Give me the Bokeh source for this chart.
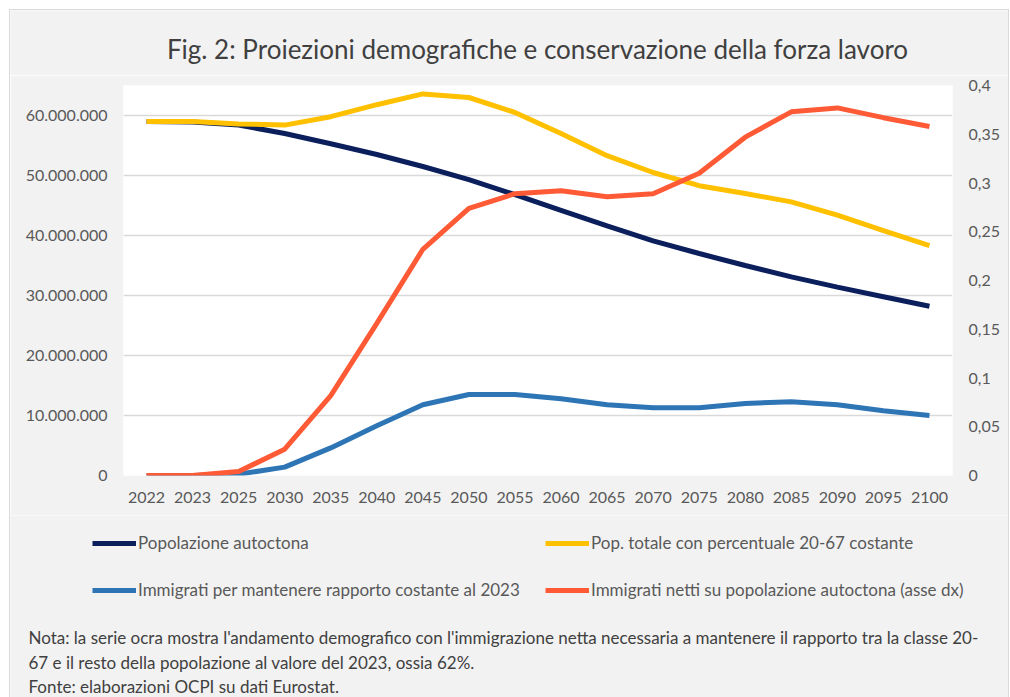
from bokeh.plotting import figure
from bokeh.models import (FactorRange, Range1d, LinearAxis, FixedTicker, CustomJSTickFormatter,
                          Legend, LegendItem, Label, Column)
from bokeh.embed import file_html
from bokeh.resources import INLINE

# ---------------- data ----------------
years = ["2022", "2023", "2025", "2030", "2035", "2040", "2045", "2050", "2055",
         "2060", "2065", "2070", "2075", "2080", "2085", "2090", "2095", "2100"]
pop_autoctona = [59.0e6, 58.9e6, 58.4e6, 57.0e6, 55.3e6, 53.5e6, 51.5e6, 49.3e6, 46.8e6,
                 44.2e6, 41.6e6, 39.1e6, 37.0e6, 35.0e6, 33.1e6, 31.4e6, 29.8e6, 28.2e6]
pop_totale = [59.0e6, 59.0e6, 58.6e6, 58.4e6, 59.8e6, 61.8e6, 63.6e6, 63.0e6, 60.5e6,
              57.0e6, 53.3e6, 50.5e6, 48.3e6, 47.0e6, 45.6e6, 43.4e6, 40.8e6, 38.3e6]
immigrati = [0.0, 0.0, 0.2e6, 1.4e6, 4.6e6, 8.3e6, 11.8e6, 13.5e6, 13.5e6,
             12.8e6, 11.8e6, 11.3e6, 11.3e6, 12.0e6, 12.3e6, 11.8e6, 10.8e6, 10.0e6]
quota_immigrati = [0.0, 0.0, 0.004, 0.027, 0.082, 0.156, 0.232, 0.274, 0.289,
                   0.292, 0.286, 0.289, 0.310, 0.347, 0.373, 0.377, 0.367, 0.358]

left_ticks = [0, 10e6, 20e6, 30e6, 40e6, 50e6, 60e6]
right_ticks = [0, 0.05, 0.1, 0.15, 0.2, 0.25, 0.3, 0.35, 0.4]

title_text = "Fig. 2: Proiezioni demografiche e conservazione della forza lavoro"
series_names = ["Popolazione autoctona",
                "Pop. totale con percentuale 20-67 costante",
                "Immigrati per mantenere rapporto costante al 2023",
                "Immigrati netti su popolazione autoctona (asse dx)"]
note_lines = ["Nota: la serie ocra mostra l'andamento demografico con l'immigrazione netta necessaria a mantenere il rapporto tra la classe 20-",
              "67 e il resto della popolazione al valore del 2023, ossia 62%.",
              "Fonte: elaborazioni OCPI su dati Eurostat."]

colors = ["#0b1f5c", "#ffc000", "#2e75b6", "#ff5a36"]
FONT = "Lato"
LABEL_COLOR = "#595959"
TEXT_COLOR = "#404040"
BG = "#f2f2f2"
W = 998
NAN = float("nan")

# ---------------- title strip ----------------
pt = figure(width=W, height=65, x_range=Range1d(0, W), y_range=Range1d(65, 0),
            x_axis_type=None, y_axis_type=None, output_backend="svg", toolbar_location=None,
            min_border=0, outline_line_color=None, background_fill_color=BG,
            border_fill_color=BG)
pt.grid.visible = False
pt.add_layout(Label(x=527, y=38, text=title_text, text_align="center", text_baseline="middle",
                    text_font=FONT, text_font_size="26px", text_color=TEXT_COLOR))

# ---------------- main chart ----------------
p = figure(width=W, height=440, x_range=FactorRange(*years), y_range=Range1d(0, 65e6),
           output_backend="svg", toolbar_location=None,
           min_border_left=113, min_border_right=56, min_border_top=10, min_border_bottom=40,
           background_fill_color="white", border_fill_color=BG, outline_line_color=None)
p.extra_y_ranges = {"right": Range1d(0, 0.4)}

def style_axis(ax, standoff):
    ax.axis_line_color = None
    ax.major_tick_line_color = None
    ax.minor_tick_line_color = None
    ax.major_tick_out = 0
    ax.major_tick_in = 0
    ax.major_label_text_color = LABEL_COLOR
    ax.major_label_text_font = FONT
    ax.major_label_text_font_size = "16px"
    ax.major_label_standoff = standoff

yax = p.yaxis[0]
yax.ticker = FixedTicker(ticks=left_ticks)
yax.formatter = CustomJSTickFormatter(
    code="return Math.round(tick).toString().replace(/\\B(?=(\\d{3})+(?!\\d))/g, '.');")
style_axis(yax, 16)

xax = p.xaxis[0]
style_axis(xax, 16)

rax = LinearAxis(y_range_name="right", ticker=FixedTicker(ticks=right_ticks),
                 formatter=CustomJSTickFormatter(
                     code="return (Math.round(tick*100)/100).toString().replace('.', ',');"))
style_axis(rax, 16)
p.add_layout(rax, "right")

p.xgrid.visible = False
p.ygrid.ticker = FixedTicker(ticks=left_ticks)
p.ygrid.grid_line_color = "#d9d9d9"
p.ygrid.grid_line_width = 1.5

r1 = p.line(years, pop_autoctona, line_color=colors[0], line_width=5)
r2 = p.line(years, pop_totale, line_color=colors[1], line_width=5)
r3 = p.line(years, immigrati, line_color=colors[2], line_width=5)
r4 = p.line(years, quota_immigrati, line_color=colors[3], line_width=5, y_range_name="right")

# ---------------- legend + notes strip ----------------
HB = 182
pb = figure(width=W, height=HB, x_range=Range1d(0, W), y_range=Range1d(HB, 0),
            x_axis_type=None, y_axis_type=None, output_backend="svg", toolbar_location=None,
            min_border=0, outline_line_color=None, background_fill_color=BG,
            border_fill_color=BG)
pb.grid.visible = False
# legend-only renderers (no visible data), styled like the chart series
samples = [pb.line(x=[NAN], y=[NAN], line_color=c, line_width=5) for c in colors]

positions = [(82, 144), (535, 144), (82, 97), (535, 97)]
for name, rend, loc in zip(series_names, samples, positions):
    lg = Legend(items=[LegendItem(label=name, renderers=[rend])], location=loc,
                padding=0, margin=0, spacing=0, border_line_alpha=0,
                background_fill_alpha=0, glyph_width=44, glyph_height=20,
                label_height=20, label_standoff=2,
                label_text_font=FONT, label_text_font_size="17px",
                label_text_color=LABEL_COLOR)
    pb.add_layout(lg, "center")

for i, line in enumerate(note_lines):
    pb.add_layout(Label(x=18, y=122 + 24.5 * i, text=line, text_align="left",
                        text_baseline="middle", text_font=FONT, text_font_size="17px",
                        text_color=TEXT_COLOR))

layout = Column(children=[Column(children=[pt]), p, Column(children=[pb])], spacing=0,
                margin=(10, 0, 0, 10), styles={"outline": "1px solid #d9d9d9"})

open("out.html", "w").write(file_html(layout, INLINE))
